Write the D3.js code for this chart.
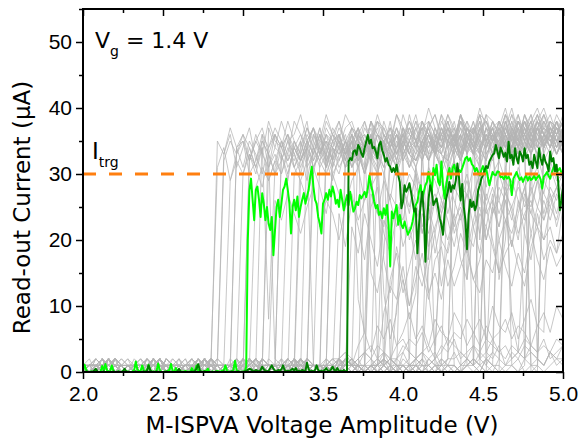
<!DOCTYPE html>
<html>
<head>
<meta charset="utf-8">
<script src="https://cdn.jsdelivr.net/npm/d3@7"></script>
<style>
  body { margin: 0; background: #fff; }
  svg { font-family: "DejaVu Sans", "Liberation Sans", Arial, sans-serif; }
</style>
</head>
<body>
<div id="chart"></div>
<script>
// voltage grids of the sweeps (V)
const fineVolts = d3.range(0, 301).map(i => 2 + i * 0.01);
const coarseVolts = d3.range(0, 76).map(i => 2 + i * 0.04);

const xMajor = [2.0, 2.5, 3.0, 3.5, 4.0, 4.5, 5.0];
const xMinor = [2.25, 2.75, 3.25, 3.75, 4.25, 4.75];
const yMajor = [0, 10, 20, 30, 40, 50];
const yMinor = [5, 15, 25, 35, 45, 55];
const targetCurrent = 30;

// highlighted sweep, bright green (uA, 0.01 V step)
const brightTrace = [
  0.2,1.1,0.3,0,0,0.1,0,0,0.2,0,
  0,0.1,0.9,0.2,1.2,0.3,0,0.1,1.0,0.2,
  0,0,0.1,0,0,0.2,0,0,0.1,0,
  0,0.1,0.3,1.6,0.4,0.1,0.2,1.0,0.2,0,
  0.3,1.1,0.2,0,0.1,0,0.2,1.3,0.3,0,
  0,0.1,0,0.2,0.3,1.2,0.2,0,0.6,0.1,
  0,0,0.1,0,0.2,0,0.1,0,0.6,0.1,
  0.2,1.0,0.2,0,0.1,0,0.2,0.1,0.5,0,
  0,0.1,0,0,0.2,0,0.1,0.2,0.3,1.0,
  0.2,0,0.1,0,0.3,1.7,0.3,0,0.1,0,
  0.1,0,0.8,20,27.5,29.3,
  26.1,23.0,27.6,28.1,26.1,23.5,27.1,25.5,23.0,25.0,
  22.5,21.5,23.5,17.7,21.5,25.0,26.1,23.5,25.5,27.6,
  28.1,29.3,27.6,25.5,21.0,25.0,26.1,24.5,26.6,23.5,
  25.0,26.1,27.1,25.5,26.6,27.6,29.6,31.1,28.1,26.1,
  25.5,23.5,22.5,21.0,25.5,26.1,27.1,26.1,27.6,26.6,
  28.1,27.1,25.5,26.1,25.0,27.6,26.1,24.5,
  25.8,26.8,25.3,27.3,25.8,24.3,24.8,25.8,25.3,26.8,
  26.3,26.8,27.3,26.5,27.8,29.8,28.3,27.3,25.8,24.8,
  25.3,23.8,24.3,23.3,24.8,23.8,25.3,22.3,16.0,24.3,
  23.3,24.3,25.3,22.3,23.8,22.3,21.8,22.8,21.8,20.8,
  21.3,21.8,22.8,24.3,25.3,25.8,27.3,28.3,26.3,27.3,
  28.3,28.8,30.3,28.8,27.3,30.9,29.8,31.4,28.8,28.3,
  31.9,28.3,26.3,28.3,29.8,30.9,29.3,30.9,31.4,
  30.3,29.8,30.6,30.3,30.9,31.6,32.4,32.6,32.0,32.4,
  31.5,31.2,30.4,30.9,30.2,29.8,30.6,31.2,30.3,30.9,
  29.5,28.3,29.4,30.3,29.9,29.8,30.4,30.3,29.5,29.6,
  29.2,29.8,29.3,29.6,29.1,26.8,29.3,29.8,30.3,29.6,
  29.1,29.5,28.8,29.4,29.8,29.0,29.6,29.1,29.3,29.8,
  29.1,29.5,29.8,29.2,27.8,29.6,29.9,30.3,29.7,29.3,
  30.2,30.9,31.4,30.3,30.6,30.9,30.2,29.8
];

// highlighted sweep, dark green (uA, 0.01 V step)
const darkTrace = [
  0,0,0.1,0,0,0,0.1,0.2,0.5,0.1,
  0,0,0,0.1,0,0,0,0,0,0.1,
  0,0,0.1,0,0,0.1,0.5,0.1,0,0,
  0,0,0,0.1,0,0,0,0,0.1,0,
  0.2,1.0,0.3,0,0,0,0.1,0,0,0,
  0,0,0.1,0,0,0,0,0,0,0.1,
  0.5,0.1,0,0,0,0,0,0,0.1,0,
  0.2,0.5,1.2,0.3,0,0,0.1,0,0,0,
  0,0,0,0.1,0,0,0,0,0.1,0,
  0,0,0,0.1,0,0,0,0.1,0,0,
  0,0.1,0.2,0.3,0.5,0.4,0.2,0.1,0.3,0.2,
  0.1,0.3,0.8,0.4,0.2,0.1,0.2,0.6,1.0,0.5,
  0.2,0.1,0.3,0.2,0.4,1.0,0.3,0.1,0.2,0.1,
  0.3,0.5,0.2,0.6,0.1,0.2,0.1,0.3,0.2,0.1,
  1.4,0.4,0.1,0.2,0.1,0.3,1.0,0.3,0.1,0.2,
  0.1,0.3,0.6,0.2,0.1,0.4,0.8,0.3,0.2,0.6,
  0.1,0.2,0.1,0.3,0.1,0.2,
  31.9,32.4,32.1,33.4,33.6,32.9,34.4,33.9,33.1,32.6,
  33.9,34.9,35.9,34.6,35.2,33.9,34.1,33.4,32.4,34.4,
  34.9,33.6,32.9,31.9,32.4,31.4,31.1,30.3,30.9,30.3,
  31.4,29.8,28.8,24.8,25.8,28.3,27.3,27.8,28.6,27.3,
  25.8,24.3,24.8,18.0,22.3,25.3,27.3,24.3,16.7,22.3,
  26.3,28.3,27.3,25.3,25.8,26.3,24.8,23.3,22.3,20.8,
  23.8,26.3,27.3,28.8,27.3,28.3,27.8,
  29.0,31.6,29.5,26.0,28.5,25.0,23.0,18.6,23.8,26.1,
  25.0,25.8,24.5,25.3,27.6,28.3,29.3,29.8,30.6,31.2,
  30.9,31.9,32.4,32.9,33.1,34.4,33.4,32.4,34.0,33.4,
  32.6,33.2,31.9,34.9,32.4,32.9,31.4,33.9,32.4,31.6,
  33.4,32.9,31.9,33.9,32.4,32.9,31.4,31.9,30.9,32.9,
  31.9,30.9,33.9,32.4,31.4,32.9,31.9,31.4,30.4,33.4,
  31.9,32.4,30.4,31.4,28.8,24.5,26.0,28.0
];

// the other sweeps, grey (uA, 0.04 V step)
const greyTraces = [
  [1,0,1,2,0,1,1,0,2,1,0,1,0,1,2,1,0,1,1,0,1,35,33,36,31,34,37,32,35,33,30,34,36,33,35,38,32,34,31,35,36,33,34,37,35,32,36,34,38,33,35,37,34,36,32,35,39,34,36,33,37,35,38,34,36,33,37,35,39,36,34,37,33,36,38,35],
  [0,1,2,1,0,0,1,2,1,0,1,1,0,2,1,0,1,0,2,1,2,31,34,29,33,35,30,32,36,31,34,33,29,35,32,34,37,33,31,35,34,36,32,34,30,35,33,37,34,32,36,35,33,38,34,36,31,35,37,33,35,38,34,32,36,35,39,33,36,34,37,32,36,35,33,36],
  [1,1,0,1,2,0,1,0,1,1,2,1,0,1,0,1,2,0,1,1,0,2,33,37,34,35,32,36,33,38,35,34,36,31,34,37,35,33,36,34,32,35,37,36,34,38,33,35,36,32,37,34,35,38,36,33,37,35,34,39,36,35,33,37,36,34,38,35,37,33,36,38,34,37,35,36],
  [0,1,1,2,1,0,1,0,0,1,2,1,1,0,1,2,0,1,1,0,1,0,1,29,32,30,34,31,28,33,30,32,35,31,33,29,34,32,30,33,35,31,32,34,30,33,31,35,32,34,36,31,33,35,32,34,30,33,36,32,35,33,31,34,36,33,35,32,34,37,33,35,32,34,36,33],
  [1,0,2,1,1,0,1,2,0,1,0,1,1,0,2,1,0,1,0,1,2,1,0,1,34,36,32,35,37,33,36,34,38,35,33,36,34,37,32,35,36,33,37,35,34,38,36,33,35,37,34,36,39,35,33,37,35,36,34,38,36,35,33,37,36,34,38,35,37,36,34,39,36,35,37,34],
  [0,1,1,0,2,1,0,1,1,2,0,1,0,1,1,2,1,0,1,0,1,1,0,2,1,30,33,31,34,29,32,35,31,33,30,34,32,36,33,31,34,33,35,32,34,36,33,35,31,34,37,33,35,32,36,34,33,37,35,32,36,34,38,33,35,37,34,36,33,35,38,34,36,35,33,36],
  [1,2,0,1,0,1,1,0,1,2,1,0,1,1,0,2,0,1,0,1,1,2,1,0,1,0,32,35,33,31,36,34,32,35,33,37,34,32,36,35,33,34,37,35,33,36,38,34,35,33,37,36,34,38,35,33,36,37,35,39,34,36,38,35,37,34,36,39,35,37,34,38,36,35,37,36],
  [0,1,0,2,1,1,0,1,0,1,2,1,0,1,1,0,1,2,1,0,1,0,1,1,2,0,1,28,31,29,32,30,33,31,29,32,34,31,33,30,32,35,31,33,34,32,30,34,33,31,35,33,32,34,36,33,31,35,34,32,36,33,35,34,37,33,35,36,34,32,35,37,34,36,33,35],
  [1,1,0,1,2,0,1,1,0,1,0,2,1,1,0,1,0,1,2,1,0,1,1,0,1,2,0,1,36,34,37,35,33,38,36,34,37,35,39,36,34,37,38,35,36,34,38,37,35,39,36,34,37,38,36,35,39,37,34,38,36,37,35,39,38,36,37,40,36,38,35,37,39,36,38,37],
  [0,1,2,1,0,1,0,1,1,0,2,1,0,1,1,0,1,2,0,1,1,0,1,0,2,1,1,0,1,31,33,30,34,32,35,31,33,36,32,34,31,33,35,32,36,33,34,31,35,33,36,34,32,35,37,33,34,36,32,35,37,34,33,36,35,38,34,36,33,37,35,34,38,36,35,37],
  [1,0,1,1,2,0,1,0,1,1,0,1,2,1,0,1,1,0,1,0,2,1,1,0,1,0,1,2,0,1,1,33,36,34,32,35,37,33,35,34,36,32,35,37,34,36,33,38,35,34,36,37,35,33,38,36,34,37,35,39,36,34,37,38,35,36,39,37,34,38,36,35,39,37,36,38],
  [0,1,1,0,2,1,0,1,0,1,1,2,0,1,0,1,1,0,2,1,0,1,1,0,1,2,1,0,1,0,1,1,0,30,32,34,31,33,35,32,30,34,33,31,35,33,32,36,34,31,33,35,32,34,36,33,35,31,34,37,33,35,34,32,36,34,33,37,35,34,36,33,35,37,34,36],
  [1,0,1,2,1,0,1,1,0,1,0,1,2,0,1,1,0,1,0,2,1,1,0,1,0,1,2,1,0,1,1,0,2,1,0,35,33,37,34,36,38,35,33,36,34,38,36,35,37,34,39,36,35,37,38,34,36,39,37,35,38,36,40,37,35,38,36,39,37,36,38,40,37,36,39,37],
  [0,1,0,1,1,2,0,1,1,0,1,0,2,1,1,0,1,0,1,2,0,1,1,0,1,0,2,1,0,1,1,2,0,1,0,1,1,32,34,31,35,33,36,32,34,35,33,31,35,34,36,33,32,35,37,34,33,36,34,32,35,37,33,36,34,35,38,33,35,36,34,37,35,33,36,34],
  [1,1,0,2,0,1,0,1,1,2,1,0,1,0,1,1,2,0,1,0,1,2,1,0,1,1,0,1,0,2,1,0,1,1,0,2,1,0,1,34,37,35,33,36,38,34,36,35,37,33,36,38,35,34,37,39,36,35,38,34,37,36,39,35,37,38,36,34,38,37,39,36,35,38,37,36],
  [0,1,1,0,1,2,1,0,1,0,1,1,0,2,1,0,1,1,0,1,2,0,1,0,1,1,2,1,0,1,0,1,2,1,1,0,1,0,2,1,1,31,34,32,35,33,30,34,36,32,35,33,31,35,34,37,33,32,36,34,35,33,37,35,32,36,34,38,35,33,36,37,34,36,35,33],
  [1,0,2,1,0,1,1,0,1,0,2,1,1,0,1,0,1,2,1,0,1,1,0,1,2,0,1,0,1,1,0,2,1,0,1,1,0,1,2,1,0,1,1,36,34,38,35,33,37,36,34,39,35,37,36,34,38,36,35,39,37,34,36,38,35,37,40,36,38,35,37,39,36,38,37,35],
  [0,1,1,2,0,1,0,1,1,0,1,2,1,0,1,1,0,1,0,2,1,0,1,1,0,1,2,1,0,1,1,0,1,2,0,1,1,0,1,0,2,1,1,0,1,0,33,35,32,36,34,31,35,37,33,34,36,32,35,38,34,33,36,35,37,34,32,36,38,35,33,37,36,34,38,35],
  [1,0,1,1,2,1,0,1,0,1,1,0,2,1,0,1,1,0,1,2,0,1,0,1,1,2,1,0,1,0,1,1,0,2,1,0,1,1,0,1,2,1,0,1,1,0,1,2,0,30,33,31,34,32,35,33,31,34,36,32,35,33,34,37,33,35,32,36,34,33,37,35,34,36,33,35],
  [0,1,2,1,0,1,1,0,1,0,2,1,0,1,1,0,1,1,2,0,1,0,1,1,0,2,1,0,1,1,0,1,0,2,1,1,0,1,0,1,2,1,0,1,1,0,1,2,1,0,1,0,1,35,37,34,36,38,35,33,37,36,39,35,37,34,38,36,35,39,37,36,38,35,37,36],
  [1,1,0,1,2,0,1,0,1,1,0,2,1,0,1,1,0,1,2,1,0,1,0,1,1,2,0,1,1,0,1,0,2,1,1,0,1,0,1,2,1,1,0,1,0,1,2,1,0,1,1,0,2,1,0,1,1,32,35,33,36,34,31,35,37,33,36,34,38,35,33,37,36,34,38,35],
  [0,1,0,1,1,2,1,0,1,0,1,2,0,1,1,0,1,0,2,1,1,0,1,1,0,1,2,0,1,0,1,1,2,1,0,1,0,1,1,0,2,1,0,1,1,0,1,2,1,0,1,1,0,2,1,0,1,1,0,1,2,1,34,36,33,37,35,38,34,36,39,35,37,36,38,35],
  [1,0,1,1,0,2,1,0,1,0,1,1,2,0,1,0,1,1,0,1,2,1,32,35,33,36,34,31,35,33,2,1,30,34,32,35,33,36,31,34,33,35,32,36,34,15,12,18,33,36,34,37,35,33,38,36,34,37,35,39,36,34,37,38,35,36,39,37,34,38,36,35,37,39,36,38],
  [0,1,1,0,2,1,0,1,1,0,1,0,2,1,1,0,1,0,1,1,2,0,1,0,34,31,35,33,30,34,36,32,35,33,31,34,1,0,1,33,35,32,36,34,31,35,37,33,34,36,32,35,34,37,33,1,0,2,34,36,33,37,35,34,38,36,33,37,35,39,36,34,38,36,35,37],
  [1,1,0,1,0,2,1,0,1,1,0,1,2,1,0,1,0,1,1,2,0,1,1,0,1,0,33,30,34,8,31,35,32,34,36,33,30,35,34,32,36,33,35,31,34,37,33,35,2,1,0,1,2,32,35,33,37,34,36,32,35,38,34,36,33,37,35,34,38,36,33,37,35,36,34,37],
  [0,1,0,1,2,1,1,0,1,0,2,1,0,1,1,0,1,2,1,0,1,0,1,1,0,2,1,0,1,1,26,23,27,24,21,25,28,22,26,24,20,25,27,23,26,29,24,22,27,25,23,28,26,21,25,27,24,29,26,23,27,25,28,24,26,30,27,25,28,26,24,29,27,25,28,26],
  [1,0,1,1,0,1,2,1,0,1,1,0,2,1,0,1,0,1,1,0,2,1,0,1,1,0,1,0,2,1,1,0,1,0,29,26,31,28,24,30,27,25,29,31,26,28,30,12,5,9,27,30,28,25,31,29,26,30,32,28,27,31,29,26,30,32,29,27,31,28,30,33,29,31,28,30],
  [0,1,1,2,0,1,0,1,1,0,1,2,1,0,1,0,1,1,0,2,1,0,1,1,0,1,0,2,1,1,0,1,0,1,2,1,0,1,35,32,36,33,34,37,1,2,0,1,34,36,33,35,37,34,32,36,35,38,34,36,33,37,2,1,3,35,37,34,36,38,35,37,39,36,34,37],
  [1,0,1,2,1,0,1,1,0,1,0,2,1,1,0,1,0,1,2,0,1,1,0,1,0,2,1,1,0,1,0,1,1,2,0,1,0,1,1,0,2,1,22,18,24,20,16,23,21,25,19,22,17,24,21,26,20,18,23,25,21,19,24,22,27,20,23,25,21,24,26,22,20,25,23,27],
  [0,1,1,0,1,2,0,1,0,1,1,2,1,0,1,0,1,1,0,2,1,0,1,1,0,1,0,1,2,1,1,0,1,0,2,1,0,1,1,0,1,2,1,0,1,33,36,34,31,35,33,0,1,2,32,35,34,37,33,36,14,34,37,35,33,38,36,34,37,2,1,0,35,37,34,36],
  [1,1,0,1,2,0,1,0,1,1,0,1,2,1,0,1,1,0,1,0,2,1,1,0,1,0,1,2,1,0,1,1,0,1,0,2,1,1,0,1,0,1,1,2,0,1,0,1,14,18,12,16,20,15,11,17,19,13,16,21,18,14,17,22,19,15,18,20,16,13,19,22,17,20,18,21],
  [0,1,0,1,1,2,1,0,1,0,1,1,2,0,1,0,1,1,0,1,2,1,0,1,1,0,1,0,2,1,1,0,1,0,1,2,1,1,0,1,0,1,2,1,0,1,1,0,1,0,1,2,31,34,32,35,33,30,34,36,1,2,1,33,35,32,36,34,37,33,0,1,34,36,33,35],
  [1,0,1,1,0,2,1,0,1,1,0,1,0,2,1,1,0,1,0,1,2,1,1,0,1,0,1,2,0,1,1,0,1,1,2,0,1,0,1,1,0,2,1,0,1,1,0,1,2,1,0,1,1,0,1,2,24,27,22,26,29,25,21,27,24,28,26,23,29,25,27,30,24,28,26,29],
  [0,1,1,2,1,0,1,0,1,1,2,0,1,1,0,1,0,2,1,1,0,1,0,1,2,1,0,1,1,0,1,0,2,1,1,0,1,0,1,2,1,1,0,1,0,1,2,1,0,1,1,0,1,2,0,1,1,0,1,0,36,33,37,35,38,34,36,1,0,2,35,37,34,38,36,37],
  [0,1,1,0,1,2,1,0,1,0,1,1,2,0,1,0,1,1,0,1,2,1,0,1,1,0,1,0,2,1,1,0,1,1,0,2,1,0,1,1,0,1,2,1,0,1,1,9,13,11,16,10,14,18,12,15,11,17,13,16,19,14,12,17,15,20,16,13,18,15,21,17,14,19,16,18],
  [1,0,1,1,2,0,1,0,1,1,0,2,1,0,1,1,0,1,0,2,1,1,0,1,0,1,2,1,0,1,1,0,1,2,0,1,31,34,32,29,33,35,31,33,30,34,32,35,33,31,34,32,30,22,25,21,26,23,19,24,27,22,25,20,24,26,23,21,25,28,24,22,26,23,27,25],
  [0,1,1,0,1,2,1,0,1,1,0,1,0,2,1,1,0,1,0,1,2,1,0,1,1,0,1,2,1,0,1,33,30,34,32,35,31,33,36,32,34,31,35,33,30,34,32,1,2,1,0,1,2,1,1,0,2,1,3,1,2,1,0,2,1,34,37,35,33,36,38,35,37,34,36,38],
  [1,0,1,1,2,0,1,0,1,1,0,2,1,0,1,1,0,1,0,2,1,1,0,1,0,1,2,1,0,1,1,0,1,2,1,0,1,1,0,1,0,2,1,1,0,1,0,1,2,1,0,1,1,0,2,1,0,1,1,0,1,2,1,0,1,1,0,1,2,0,1,1,0,1,2,1],
  [0,1,0,1,1,2,1,0,1,0,1,1,0,2,1,0,1,1,0,1,2,0,1,0,1,1,2,1,0,1,0,1,1,2,0,1,0,1,1,0,2,1,1,2,3,2,4,3,2,4,5,3,2,3,4,2,3,5,4,3,2,4,3,5,4,3,4,2,3,5,4,3,4,3,5,4],
  [1,0,1,2,0,1,1,0,1,0,1,2,1,1,0,1,0,1,1,2,0,1,0,1,1,0,2,1,0,1,1,0,1,0,2,1,1,0,1,0,1,1,2,0,1,0,1,1,0,2,1,0,1,1,0,1,2,1,0,1,1,0,1,2,1,0,1,1,0,1,33,36,34,37,35,36],
  [0,1,1,0,2,1,0,1,1,0,1,0,2,1,1,0,1,0,1,2,1,1,0,1,0,1,2,0,1,1,0,1,0,2,1,1,0,1,0,1,2,1,1,0,1,0,1,2,1,0,3,5,4,6,3,5,7,4,6,5,8,6,4,7,5,6,8,5,7,6,4,7,6,32,35,33],
  [1,1,0,1,0,2,1,0,1,1,0,1,2,1,0,1,0,1,1,2,0,1,1,0,1,0,2,1,1,0,1,0,1,1,2,0,1,0,1,1,0,2,1,1,0,1,0,1,2,1,1,0,1,0,1,2,0,1,1,0,1,1,0,2,1,0,31,34,32,35,33,2,1,3,1,2],
  [1,0,1,0,2,1,1,0,1,0,1,2,0,1,1,0,1,0,1,2,1,1,0,1,0,2,1,0,1,1,0,1,2,1,0,1,0,1,1,2,2,3,1,2,3,2,1,3,2,2,3,1,2,3,2,3,1,2,2,3,2,1,3,2,3,2,1,2,3,2,3,2,1,3,2,2],
  [0,1,1,0,2,1,0,1,1,0,1,0,2,1,1,0,1,0,1,2,1,1,0,1,0,2,1,0,1,1,0,1,2,1,0,1,1,0,1,0,24,19,26,22,17,25,28,21,18,24,27,20,23,26,19,22,25,28,21,24,18,23,27,20,25,22,26,19,24,28,21,25,23,27,22,26],
  [1,0,1,1,0,2,1,0,1,0,1,1,2,0,1,0,1,1,0,1,2,1,0,1,1,0,1,0,2,1,1,0,1,0,1,2,1,1,0,1,0,34,31,35,33,36,2,1,0,10,14,8,12,33,36,34,31,35,37,33,35,1,2,34,36,33,37,35,32,36,38,34,36,35,37,34],
  [0,1,1,2,1,0,1,0,1,1,0,2,1,0,1,1,0,1,0,2,1,0,1,1,0,1,2,1,0,1,1,0,1,0,2,1,1,0,1,0,1,2,1,0,32,35,33,30,34,36,32,34,31,21,25,18,23,20,24,33,36,34,32,35,37,33,35,36,34,38,35,33,36,37,35,34],
  [1,0,1,0,1,2,1,1,0,1,0,1,2,0,1,1,0,1,0,1,2,1,0,1,1,0,2,1,0,1,0,1,1,2,1,0,1,0,1,1,2,0,1,4,6,3,7,5,8,4,6,9,5,7,4,8,6,5,9,7,4,6,8,5,10,7,6,9,5,8,11,7,9,6,10,8],
  [0,1,0,1,1,2,1,0,1,1,0,1,0,2,1,1,0,1,0,1,2,1,1,0,1,0,1,2,1,0,1,1,0,1,0,2,1,1,0,1,0,1,2,1,0,1,1,30,26,32,28,24,31,27,12,4,20,29,32,27,30,25,31,28,33,26,30,8,3,22,29,31,27,32,29,30],
  [1,0,1,1,0,1,2,1,0,1,1,0,2,1,0,1,0,1,1,0,2,1,0,1,1,0,1,0,2,1,1,0,1,0,1,2,1,1,0,1,0,1,2,1,0,1,1,0,1,0,35,33,37,34,17,36,34,38,35,33,37,36,20,35,38,36,34,37,39,35,36,38,34,37,36,39],
  [0,1,1,0,1,2,1,0,1,0,1,1,2,0,1,0,1,1,0,2,1,0,1,1,0,1,2,1,0,1,0,1,1,2,1,0,1,0,1,1,2,0,1,1,0,1,0,2,1,1,0,1,0,1,16,21,13,19,24,17,14,22,18,25,20,15,23,19,26,21,17,24,20,22,18,25],
  [1,0,1,2,0,1,1,0,1,0,1,2,1,1,0,1,0,1,1,2,0,1,0,1,1,0,2,1,0,1,1,0,1,0,2,1,1,0,33,36,34,31,35,37,33,35,32,36,34,37,33,35,38,34,36,33,37,35,34,38,36,33,37,3,2,4,1,3,2,4,3,2,1,3,2,4],
  [0,1,0,1,1,2,1,0,1,1,0,1,2,1,0,1,1,0,1,0,2,1,1,0,1,0,1,2,1,0,1,1,0,1,0,2,1,1,0,1,0,1,2,1,0,1,1,0,1,0,2,1,0,1,1,0,1,2,34,37,35,33,36,1,0,2,33,36,34,37,35,38,36,34,37,35],
  [1,1,0,1,0,2,1,0,1,1,0,1,2,1,0,1,0,1,1,2,0,1,1,0,1,0,2,1,1,0,1,0,1,1,2,0,1,0,1,1,0,2,1,1,0,27,24,29,26,22,28,25,30,27,23,26,29,24,28,26,22,27,30,25,28,24,27,29,26,23,28,25,29,27,24,28],
  [0,1,1,0,2,1,0,1,0,1,1,2,0,1,1,0,1,0,2,1,1,0,1,1,0,1,0,2,1,1,0,1,0,1,35,32,36,34,33,37,35,32,36,34,38,35,33,17,12,19,14,10,16,13,18,34,37,35,33,36,38,34,36,39,35,37,34,36,38,35,37,39,36,34,38,36],
  [1,0,1,1,0,2,1,0,1,0,1,1,2,0,1,0,1,1,0,1,2,1,0,1,1,0,1,0,2,1,1,0,1,2,0,1,36,33,37,35,38,34,36,33,37,35,39,36,34,37,35,38,36,34,37,39,35,37,1,0,2,1,34,37,35,38,36,33,37,35,1,2,36,38,35,37],
  [1,0,1,1,0,2,1,0,1,1,0,1,0,2,1,0,1,1,0,1,2,1,0,1,0,1,1,2,1,0,1,0,1,1,0,2,1,0,1,1,2,3,2,1,3,4,2,3,1,2,4,3,2,3,1,2,4,3,5,2,3,4,2,3,5,3,2,4,3,2,4,3,5,2,3,4],
  [0,1,1,0,1,2,1,0,1,0,1,1,2,0,1,1,0,1,0,2,1,0,1,1,0,1,2,1,0,1,1,0,1,0,2,1,1,0,1,0,1,2,1,1,0,1,0,1,2,1,0,1,1,0,2,1,0,1,1,0,1,2,1,0,26,22,28,24,20,27,25,29,23,26,28,24],
  [1,0,1,1,2,0,1,0,1,1,0,2,1,0,1,1,0,1,0,2,1,1,0,1,0,1,2,1,0,37,34,38,35,36,39,35,37,34,38,36,35,39,37,11,6,35,38,36,34,39,37,35,38,36,40,37,35,39,36,38,37,35,39,38,36,14,20,37,35,39,36,38,40,37,36,38]
];

const margin = { top: 9, right: 18, bottom: 73, left: 83 },
    width = 581 - margin.left - margin.right,
    height = 445 - margin.top - margin.bottom;

const svg = d3.select("#chart")
    .append("svg")
    .attr("width", 581)
    .attr("height", 445)
    .append("g")
    .attr("transform", `translate(${margin.left},${margin.top})`);

const x = d3.scaleLinear().domain([2, 5]).range([0, width]);
const y = d3.scaleLinear().domain([0, 55]).range([height, 0]);

svg.append("clipPath")
    .attr("id", "plot-clip")
    .append("rect")
    .attr("width", width)
    .attr("height", height);

const plot = svg.append("g").attr("clip-path", "url(#plot-clip)");

const coarseLine = d3.line()
    .x((d, i) => x(coarseVolts[i]))
    .y(d => y(d));
const fineLine = d3.line()
    .x((d, i) => x(fineVolts[i]))
    .y(d => y(d));

plot.selectAll(".grey")
    .data(greyTraces)
    .enter()
    .append("path")
    .attr("class", "grey")
    .attr("d", coarseLine)
    .attr("fill", "none")
    .attr("stroke", "#b4b4b4")
    .attr("stroke-width", 0.75);

plot.append("path")
    .attr("d", fineLine(brightTrace))
    .attr("fill", "none")
    .attr("stroke", "#00ff00")
    .attr("stroke-width", 2)
    .attr("stroke-linejoin", "round");

plot.append("path")
    .attr("d", fineLine(darkTrace))
    .attr("fill", "none")
    .attr("stroke", "#008000")
    .attr("stroke-width", 2)
    .attr("stroke-linejoin", "round");

// I_trg threshold
plot.append("line")
    .attr("x1", 0)
    .attr("x2", width)
    .attr("y1", y(targetCurrent))
    .attr("y2", y(targetCurrent))
    .attr("stroke", "#ff7f0f")
    .attr("stroke-width", 3)
    .attr("stroke-dasharray", "13,13");

// axes: ticks out on bottom/left, in on top/right
function styleAxis(g) {
    g.select(".domain").remove();
    g.selectAll("line").attr("stroke", "#000").attr("stroke-width", 1.5);
    g.selectAll("text").attr("fill", "#000").style("font-size", "21px");
}

svg.append("g")
    .attr("transform", `translate(0,${height})`)
    .call(d3.axisBottom(x).tickValues(xMajor).tickSize(7).tickPadding(7).tickFormat(d3.format(".1f")))
    .call(styleAxis);
svg.append("g")
    .attr("transform", `translate(0,${height})`)
    .call(d3.axisBottom(x).tickValues(xMinor).tickSize(4).tickFormat(""))
    .call(styleAxis);
svg.append("g")
    .call(d3.axisTop(x).tickValues(xMajor).tickSize(-7).tickFormat(""))
    .call(styleAxis);
svg.append("g")
    .call(d3.axisTop(x).tickValues(xMinor).tickSize(-4).tickFormat(""))
    .call(styleAxis);

svg.append("g")
    .call(d3.axisLeft(y).tickValues(yMajor).tickSize(7).tickPadding(4))
    .call(styleAxis);
svg.append("g")
    .call(d3.axisLeft(y).tickValues(yMinor).tickSize(4).tickFormat(""))
    .call(styleAxis);
svg.append("g")
    .attr("transform", `translate(${width},0)`)
    .call(d3.axisRight(y).tickValues(yMajor).tickSize(-7).tickFormat(""))
    .call(styleAxis);
svg.append("g")
    .attr("transform", `translate(${width},0)`)
    .call(d3.axisRight(y).tickValues(yMinor).tickSize(-4).tickFormat(""))
    .call(styleAxis);

svg.append("rect")
    .attr("width", width)
    .attr("height", height)
    .attr("fill", "none")
    .attr("stroke", "#000")
    .attr("stroke-width", 2);

// axis titles
svg.append("text")
    .attr("x", width / 2 - 1)
    .attr("y", height + 61)
    .attr("text-anchor", "middle")
    .style("font-size", "23px")
    .text("M-ISPVA Voltage Amplitude (V)");

svg.append("text")
    .attr("transform", "rotate(-90)")
    .attr("x", -(height / 2 + 17))
    .attr("y", -margin.left + 30)
    .attr("text-anchor", "middle")
    .style("font-size", "23px")
    .text("Read-out Current (\u03bcA)");

// annotations
const vg = svg.append("text")
    .attr("x", 12)
    .attr("y", 39)
    .style("font-size", "22px");
vg.append("tspan").text("V");
vg.append("tspan").attr("dy", 8).style("font-size", "14px").text("g");
vg.append("tspan").attr("dy", -8).text(" = 1.4 V");

const itrg = svg.append("text")
    .attr("x", 9)
    .attr("y", 150)
    .style("font-size", "23px");
itrg.append("tspan").text("I");
itrg.append("tspan").attr("dy", 8).style("font-size", "14px").text("trg");
</script>
</body>
</html>
